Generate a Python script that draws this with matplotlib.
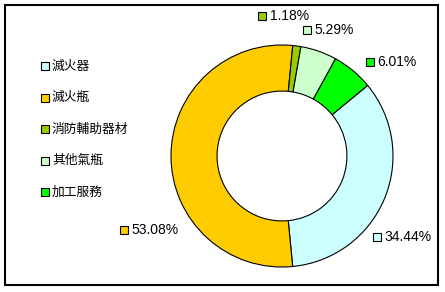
import matplotlib
matplotlib.use("Agg")
import matplotlib.pyplot as plt
from matplotlib.patches import Rectangle
from matplotlib.lines import Line2D

categories = ["滅火器", "滅火瓶", "消防輔助器材", "其他氣瓶", "加工服務"]
shares = [34.44, 53.08, 1.18, 5.29, 6.01]
colors = ["#CCFFFF", "#FFCC00", "#99CC00", "#CCFFCC", "#00FF00"]

W, H = 445, 292
fig = plt.figure(figsize=(W / 100, H / 100), dpi=100)
fig.patch.set_facecolor("white")


def fx(px):
    return px / W


def fy(py):
    return 1 - py / H


# outer frame of the chart area
fig.patches.append(Rectangle((fx(5), fy(285)), fx(433), 280 / H,
                             transform=fig.transFigure, fill=False,
                             edgecolor="black", linewidth=1.5))

# doughnut
cx, cy, r = 282, 156, 111
ax = fig.add_axes([fx(cx - r), fy(cy + r), 2 * r / W, 2 * r / H])
wedges, _ = ax.pie(shares, colors=colors, startangle=39.5, counterclock=False,
                   radius=1.0,
                   wedgeprops=dict(width=0.415, edgecolor="black", linewidth=0.8))
ax.set_xlim(-1, 1)
ax.set_ylim(-1, 1)
ax.set_aspect("equal")
ax.axis("off")

label_font = ["Liberation Sans", "DejaVu Sans"]
# marker position (px) for each percentage label
label_pos = [(376.5, 237), (123.5, 230), (262, 16), (306.5, 29.5), (369.5, 62)]
for val, col, (px, py) in zip(shares, colors, label_pos):
    fig.add_artist(Line2D([fx(px)], [fy(py)], marker="s", markersize=5.5,
                          markerfacecolor=col, markeredgecolor="black",
                          markeredgewidth=0.8, transform=fig.transFigure))
    fig.text(fx(px + 8), fy(py), f"{val:.2f}%", fontsize=10,
             family=label_font, ha="left", va="center")

# legend
legend_font = ["Noto Sans CJK TC", "DejaVu Sans"]
for i, (name, col) in enumerate(zip(categories, colors)):
    py = 66 + i * 31.5
    fig.add_artist(Line2D([fx(44.5)], [fy(py)], marker="s", markersize=5.5,
                          markerfacecolor=col, markeredgecolor="black",
                          markeredgewidth=0.8, transform=fig.transFigure))
    fig.text(fx(52), fy(py), name, fontsize=9.2, family=legend_font,
             ha="left", va="center")

fig.savefig("out.png", dpi=100)
